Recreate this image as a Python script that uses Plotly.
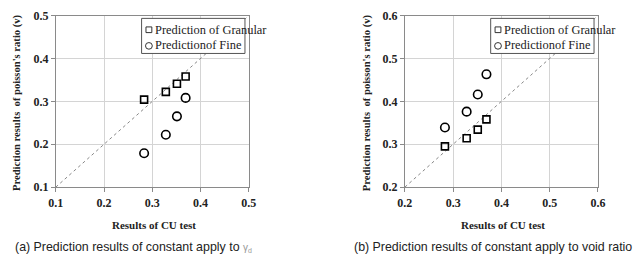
import plotly.graph_objects as go

W, H = 643, 270

# ---- data ----
cu_test = [0.283, 0.328, 0.351, 0.369]
a_granular = [0.304, 0.322, 0.341, 0.358]
a_fine = [0.179, 0.222, 0.265, 0.308]
b_granular = [0.295, 0.314, 0.334, 0.358]
b_fine = [0.339, 0.376, 0.416, 0.463]
a_ticks = [0.1, 0.2, 0.3, 0.4, 0.5]
b_ticks = [0.2, 0.3, 0.4, 0.5, 0.6]
legend_names = ["Prediction of Granular", "Predictionof Fine"]
x_title = "Results of CU test"
y_title = "Prediction results  of poisson's ratio (v)"
cap_a = "(a) Prediction results of constant apply to "
cap_b = "(b) Prediction results of constant apply to void ratio"


def px(x):
    return x / W


def py(y):
    return 1 - y / H


SERIF = "Liberation Serif"
SANS = "Liberation Sans"

fig = go.Figure()

panels = [
    dict(xa="x", ya="y", ticks=a_ticks, gran=a_granular, fine=a_fine, x0=49, x1=247),
    dict(xa="x2", ya="y2", ticks=b_ticks, gran=b_granular, fine=b_fine, x0=407, x1=605),
]

for p in panels:
    t = p["ticks"]
    fig.add_trace(go.Scatter(x=[t[0], t[-1]], y=[t[0], t[-1]], mode="lines",
                             line=dict(color="#888888", width=1, dash="dot"),
                             xaxis=p["xa"], yaxis=p["ya"], showlegend=False, hoverinfo="skip"))
    fig.add_trace(go.Scatter(x=cu_test, y=p["gran"], mode="markers",
                             marker=dict(symbol="square-open", size=7, color="black", line=dict(width=1.6)),
                             xaxis=p["xa"], yaxis=p["ya"], showlegend=False))
    fig.add_trace(go.Scatter(x=cu_test, y=p["fine"], mode="markers",
                             marker=dict(symbol="circle-open", size=8.5, color="black", line=dict(width=1.6)),
                             xaxis=p["xa"], yaxis=p["ya"], showlegend=False))

y0, y1 = 9, 190
axis_common = dict(showgrid=True, gridcolor="#d4d4d4", gridwidth=1,
                   showline=True, linecolor="#8a8a8a", linewidth=1, mirror=True,
                   ticks="outside", ticklen=4, tickcolor="#8a8a8a",
                   tickfont=dict(family=SERIF, size=12, color="#222222", weight="bold"),
                   zeroline=False, tickformat=".1f")

fig.update_layout(
    width=W, height=H, margin=dict(l=0, r=0, t=0, b=0),
    paper_bgcolor="white", plot_bgcolor="white",
    xaxis=dict(domain=[px(49), px(247)], range=[a_ticks[0], a_ticks[-1]], tickvals=a_ticks,
               anchor="y", **axis_common),
    yaxis=dict(domain=[py(y1), py(y0)], range=[a_ticks[0], a_ticks[-1]], tickvals=a_ticks,
               anchor="x", **axis_common),
    xaxis2=dict(domain=[px(407), px(605)], range=[b_ticks[0], b_ticks[-1]], tickvals=b_ticks,
                anchor="y2", **axis_common),
    yaxis2=dict(domain=[py(y1), py(y0)], range=[b_ticks[0], b_ticks[-1]], tickvals=b_ticks,
                anchor="x2", **axis_common),
    showlegend=False,
)

anns = []
shapes = []
for p, ytx, lx0 in [(panels[0], 10, 137), (panels[1], 368, 495)]:
    cx = (p["x0"] + p["x1"]) / 2
    anns.append(dict(x=px(cx + 2), y=py(230), xref="paper", yref="paper", text=x_title,
                     showarrow=False, font=dict(family=SERIF, size=11, color="#222222", weight="bold"),
                     xanchor="center", yanchor="middle"))
    anns.append(dict(x=px(ytx), y=py((y0 + y1) / 2 + 1), xref="paper", yref="paper",
                     text=y_title, textangle=-90,
                     showarrow=False, font=dict(family=SERIF, size=10.6, color="#222222", weight="bold"),
                     xanchor="center", yanchor="middle"))
    # legend box
    shapes.append(dict(type="rect", xref="paper", yref="paper",
                       x0=px(lx0), x1=px(lx0 + 106), y0=py(49), y1=py(12),
                       line=dict(color="#555555", width=1), fillcolor="white", layer="above"))
    sx = lx0 + 7.5
    shapes.append(dict(type="rect", xref="paper", yref="paper",
                       x0=px(sx - 3), x1=px(sx + 3), y0=py(27), y1=py(21),
                       line=dict(color="#333333", width=1), layer="above"))
    shapes.append(dict(type="circle", xref="paper", yref="paper",
                       x0=px(sx - 3.5), x1=px(sx + 3.5), y0=py(44.5), y1=py(37.5),
                       line=dict(color="#333333", width=1), layer="above"))
    for name, ty in zip(legend_names, [24, 40.5]):
        anns.append(dict(x=px(lx0 + 12), y=py(ty), xref="paper", yref="paper", text=name,
                         showarrow=False, font=dict(family=SERIF, size=12.4, color="#222222"),
                         xanchor="left", yanchor="middle"))

anns.append(dict(x=px(5), y=py(253), xref="paper", yref="paper",
                 text=cap_a + "<span style='color:#999999;font-size:10px'>γ<sub>d</sub></span>",
                 showarrow=False, font=dict(family=SANS, size=12.4, color="#222222"),
                 xanchor="left", yanchor="middle"))
anns.append(dict(x=px(353), y=py(253), xref="paper", yref="paper", text=cap_b,
                 showarrow=False, font=dict(family=SANS, size=12.4, color="#222222"),
                 xanchor="left", yanchor="middle"))

fig.update_layout(annotations=anns, shapes=shapes)

fig.write_html("out.html")
